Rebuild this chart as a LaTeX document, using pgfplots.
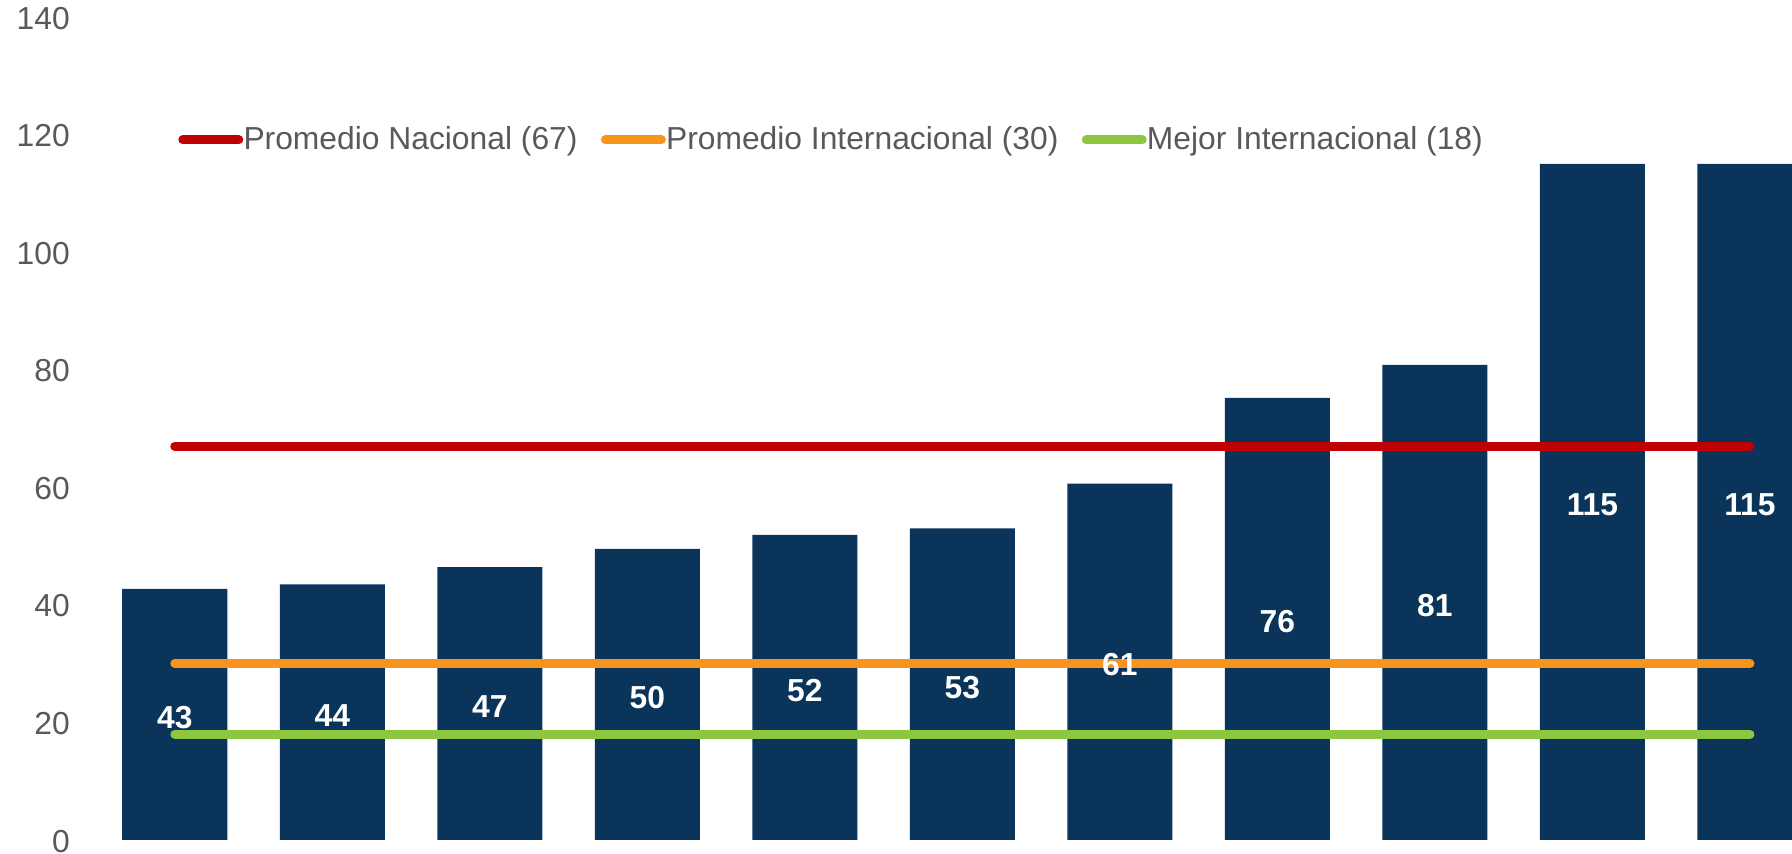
\documentclass[border=0pt]{standalone}
\usepackage{pgfplots}
\usepackage{pgfplotstable}
\pgfplotsset{compat=1.18}
\usepackage{fontspec}
\setmainfont{Liberation Sans}

\definecolor{barnavy}{RGB}{10,52,89}
\definecolor{natred}{RGB}{192,0,0}
\definecolor{intorange}{RGB}{247,148,30}
\definecolor{bestgreen}{RGB}{141,198,63}
\definecolor{txtgray}{RGB}{89,89,89}

\newcommand{\chartfont}{\fontsize{15.9}{19}\selectfont}

% bar heights as drawn, and the label printed on each bar
\pgfplotstableread{
x v lab
0 42.7 43
1 43.5 44
2 46.4 47
3 49.5 50
4 51.9 52
5 53.0 53
6 60.6 61
7 75.2 76
8 80.8 81
9 115 115
10 115 115
}\bars

\begin{document}
\begin{tikzpicture}
\begin{axis}[
    name=ax,
    width=848pt, height=411.5pt, scale only axis,
    xmin=-0.5, xmax=10.267, ymin=0, ymax=140,
    axis line style={draw=none},
    major tick style={draw=none},
    xtick=\empty,
    ytick={0,20,...,140},
    /pgf/number format/assume math mode=true,
    tick label style={font=\chartfont, text=txtgray},
    yticklabel style={inner xsep=0pt, inner ysep=0pt, xshift=-12.9pt, yshift=-0.6pt},
    legend columns=3,
    legend cell align=left,
    legend style={at={(0.0483,0.8506)}, anchor=west, draw=none, fill=none,
        inner sep=0pt, font=\chartfont, text=txtgray,
        nodes={inner sep=0pt},
        /tikz/every odd column/.append style={column sep=-3.65pt},
        /tikz/every even column/.append style={column sep=11.65pt}},
    legend image code/.code={
        \draw[#1, line cap=round] (0pt,0pt) -- (28pt,0pt);
        \path (31.75pt,0pt);
    },
]
\addplot[ybar, bar width=0.6667, fill=barnavy, draw=none, forget plot]
    table[x=x, y=v] {\bars};

\addplot[natred, line width=4.5pt, line cap=round] coordinates {(0,67) (10,67)};
\addlegendentry{Promedio Nacional (67)}
\addplot[intorange, line width=4.5pt, line cap=round] coordinates {(0,30) (10,30)};
\addlegendentry{Promedio Internacional (30)}
\addplot[bestgreen, line width=4.5pt, line cap=round] coordinates {(0,18) (10,18)};
\addlegendentry{Mejor Internacional (18)}

% value labels in the middle of each bar
\addplot[draw=none, mark=none, forget plot,
    nodes near coords, point meta=explicit,
    nodes near coords style={anchor=center, yshift=-1.5pt, text=white, font=\chartfont\bfseries}]
    table[x=x, y expr=\thisrow{v}/2, meta=lab] {\bars};
\end{axis}
\pgfresetboundingbox
\path ([xshift=-48pt, yshift=-7pt]ax.south west) rectangle ([yshift=8.5pt]ax.north east);
\end{tikzpicture}
\end{document}
